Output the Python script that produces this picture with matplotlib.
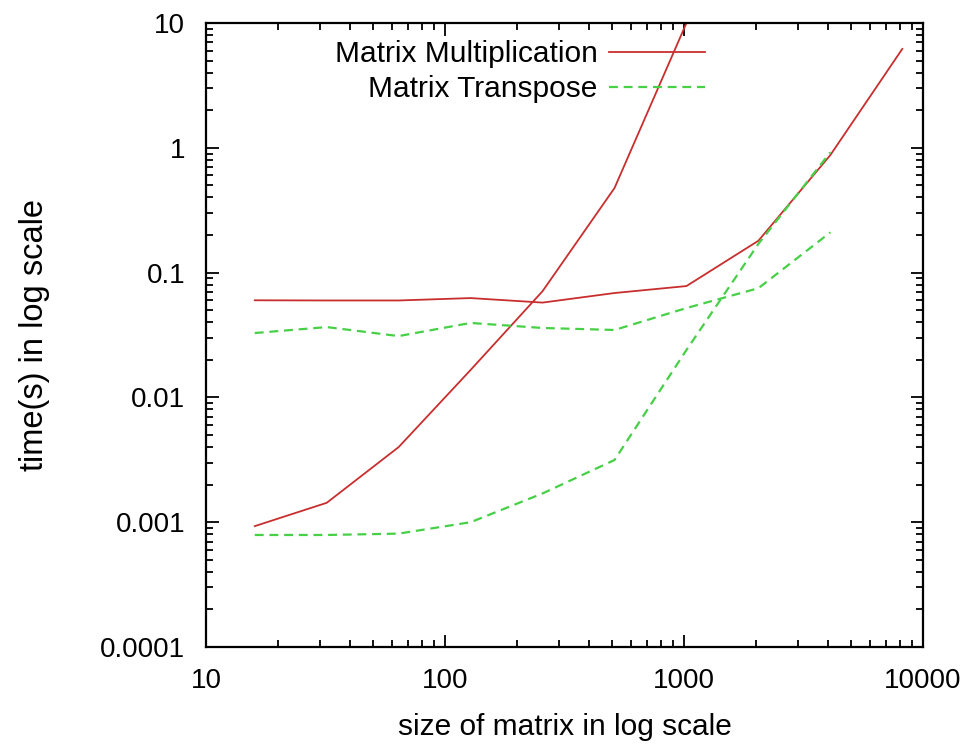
import numpy as np
import matplotlib
matplotlib.use("Agg")
import matplotlib.pyplot as plt
from matplotlib.ticker import FixedLocator, FixedFormatter, LogLocator, NullFormatter

# DATA
sizes = [16, 32, 64, 128, 256, 512, 1024, 2048, 4096, 8192]

mult_fast = [0.00093, 0.00143, 0.0040, 0.0166, 0.071, 0.476, 10.0]
mult_slow = [0.060, 0.0598, 0.0598, 0.0625, 0.0575, 0.0686, 0.078, 0.18, 0.875, 6.2]
trans_flat = [0.0328, 0.0366, 0.031, 0.0395, 0.036, 0.0347, 0.052, 0.075, 0.21]
trans_steep = [0.00079, 0.00079, 0.00081, 0.001, 0.0017, 0.00315, 0.024, 0.17, 0.92]

x_ticks = [10, 100, 1000, 10000]
x_labels = ["10", "100", "1000", "10000"]
y_ticks = [0.0001, 0.001, 0.01, 0.1, 1, 10]
y_labels = ["0.0001", "0.001", "0.01", "0.1", "1", "10"]

red = "#c92e2e"
green = "#46d046"

plt.rcParams['font.family'] = ['Liberation Sans', 'DejaVu Sans']

fig = plt.figure(figsize=(9.78, 7.45), dpi=100)
ax = fig.add_axes([206/978, 1-647/745, (923-206)/978, (647-23)/745])

ax.plot(sizes[:len(mult_fast)], mult_fast, color=red, lw=1.3, label="Matrix Multiplication")
ax.plot(sizes[:len(mult_slow)], mult_slow, color=red, lw=1.3)
ax.plot(sizes[:len(trans_flat)], trans_flat, color=green, lw=1.6, dashes=(4, 2.6),
        label="Matrix Transpose")
ax.plot(sizes[:len(trans_steep)], trans_steep, color=green, lw=1.6, dashes=(4, 2.6))

ax.set_xscale("log")
ax.set_yscale("log")
ax.set_xlim(10, 10000)
ax.set_ylim(0.0001, 10)

ax.xaxis.set_major_locator(FixedLocator(x_ticks))
ax.xaxis.set_major_formatter(FixedFormatter(x_labels))
ax.yaxis.set_major_locator(FixedLocator(y_ticks))
ax.yaxis.set_major_formatter(FixedFormatter(y_labels))
ax.xaxis.set_minor_locator(LogLocator(base=10, subs=np.arange(2, 10)))
ax.yaxis.set_minor_locator(LogLocator(base=10, subs=np.arange(2, 10)))
ax.xaxis.set_minor_formatter(NullFormatter())
ax.yaxis.set_minor_formatter(NullFormatter())

ax.tick_params(which="both", direction="in", top=True, right=True, width=1.3, colors="black")
ax.tick_params(which="major", length=9, labelsize=20, pad=15)
ax.tick_params(which="minor", length=5)
for s in ax.spines.values():
    s.set_linewidth(1.6)

ax.set_xlabel("size of matrix in log scale", fontsize=21.5, labelpad=14)
ax.set_ylabel("time(s) in log scale", fontsize=23.5, labelpad=36)

ax.legend(loc="upper right", bbox_to_anchor=((705-206)/717, 1-17/624), frameon=False,
          markerfirst=False, fontsize=21.5, handlelength=3.2, handletextpad=0.4,
          labelspacing=0.25, borderpad=0, borderaxespad=0)

fig.savefig("out.png", dpi=100)
